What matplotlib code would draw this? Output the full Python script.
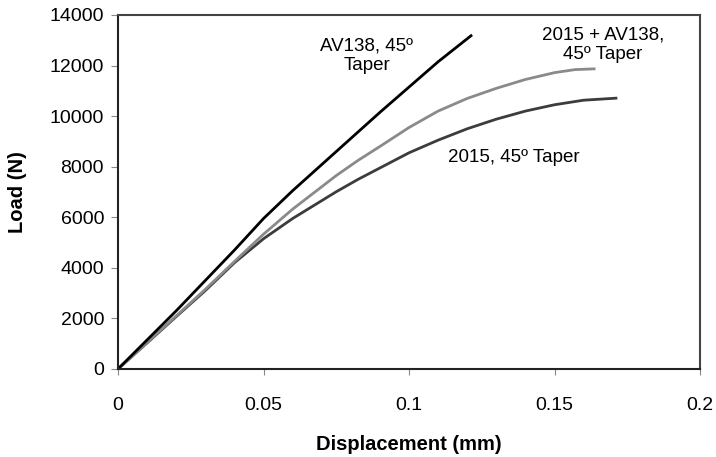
import matplotlib
matplotlib.use("Agg")
import matplotlib.pyplot as plt

plt.rcParams['font.family'] = ['Liberation Sans', 'DejaVu Sans']

# AV138, 45º Taper
av_disp = [0, 0.01, 0.02, 0.03, 0.04, 0.05, 0.06, 0.075, 0.09, 0.1, 0.11, 0.1213]
av_load = [0, 1150, 2300, 3500, 4700, 5950, 7050, 8600, 10150, 11150, 12150, 13180]

# 2015 + AV138, 45º Taper
mix_disp = [0, 0.01, 0.02, 0.03, 0.04, 0.05, 0.06, 0.075, 0.0825, 0.09, 0.1, 0.11,
            0.12, 0.13, 0.14, 0.15, 0.157, 0.1636]
mix_load = [0, 1050, 2100, 3150, 4250, 5330, 6320, 7650, 8250, 8800, 9550, 10200,
            10700, 11100, 11450, 11720, 11840, 11870]

# 2015, 45º Taper
e2015_disp = [0, 0.01, 0.02, 0.03, 0.04, 0.05, 0.06, 0.075, 0.0825, 0.09, 0.1, 0.11,
              0.12, 0.13, 0.14, 0.15, 0.16, 0.1711]
e2015_load = [0, 1030, 2070, 3100, 4200, 5150, 5950, 7010, 7500, 7950, 8550, 9050,
              9500, 9880, 10200, 10450, 10630, 10710]

fig = plt.figure(figsize=(7.16, 4.57), dpi=100)
ax = fig.add_axes([0.1648, 0.1926, 0.8129, 0.7746])

ax.plot(e2015_disp, e2015_load, color="#3c3c3c", lw=2)
ax.plot(mix_disp, mix_load, color="#8a8a8a", lw=2)
ax.plot(av_disp, av_load, color="#000000", lw=2)

ax.set_xlim(0, 0.2)
ax.set_ylim(0, 14000)
ax.set_xticks([0, 0.05, 0.1, 0.15, 0.2])
ax.set_xticklabels(["0", "0.05", "0.1", "0.15", "0.2"])
ax.set_yticks(range(0, 14001, 2000))

ax.tick_params(axis="x", direction="out", length=4, pad=16, labelsize=14, color="#888888")
ax.tick_params(axis="y", direction="out", length=5, pad=5, labelsize=14, color="#888888")

for side in ["left", "bottom"]:
    ax.spines[side].set_color("#222222")
    ax.spines[side].set_linewidth(1.5)
for side in ["top", "right"]:
    ax.spines[side].set_color("#444444")
    ax.spines[side].set_linewidth(1.5)

ax.set_xlabel("Displacement (mm)", fontsize=14.5, fontweight="bold", labelpad=15)
ax.set_ylabel("Load (N)", fontsize=14.5, fontweight="bold")
ax.yaxis.set_label_coords(-0.156, 0.5)

ax.text(0.0855, 12400, "AV138, 45º\nTaper", fontsize=13.5, ha="center", va="center")
ax.text(0.1667, 12830, "2015 + AV138,\n45º Taper", fontsize=13.5, ha="center", va="center")
ax.text(0.1361, 8345, "2015, 45º Taper", fontsize=13.5, ha="center", va="center")

fig.savefig("out.png", dpi=100)
